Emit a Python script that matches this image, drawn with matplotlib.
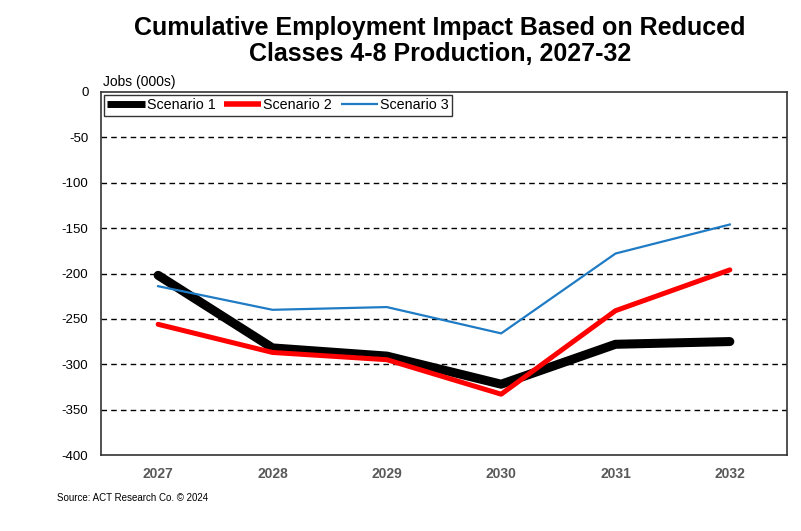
import matplotlib.pyplot as plt
import numpy as np

plt.rcParams['font.family'] = ['Liberation Sans', 'DejaVu Sans']

years = ['2027', '2028', '2029', '2030', '2031', '2032']
scenario1 = [-202, -282, -291, -322, -278, -275]
scenario2 = [-256, -287, -295, -333, -241, -196]
scenario3 = [-214, -240, -237, -266, -178, -146]
yticks = [0, -50, -100, -150, -200, -250, -300, -350, -400]

fig = plt.figure(figsize=(8.01, 5.31), dpi=100)
ax = fig.add_axes([101 / 801, 1 - 455 / 531, 686 / 801, 363 / 531])

x = np.arange(len(years))
ax.plot(x, scenario1, color='black', lw=6.5, solid_capstyle='round', label='Scenario 1', zorder=3)
ax.plot(x, scenario2, color='#ff0000', lw=3.6, solid_capstyle='round', label='Scenario 2', zorder=4)
ax.plot(x, scenario3, color='#1f7bc4', lw=1.6, label='Scenario 3', zorder=5)

ax.set_xlim(-0.5, len(years) - 0.5)
ax.set_ylim(-400, 0)
ax.set_xticks(x)
ax.set_xticklabels(years, fontsize=10, fontweight='bold', color='#595959')
ax.set_yticks(yticks)
ax.set_yticklabels([str(v) for v in yticks], fontsize=9.5)
ax.tick_params(length=0, pad=9)
ax.tick_params(axis='x', pad=9)

# dashed gridlines between the frame edges
for v in yticks[1:-1]:
    ax.axhline(v, color='black', lw=1.0, ls=(0, (4, 3)), zorder=1)

for s in ax.spines.values():
    s.set_color('#333333')
    s.set_linewidth(1.2)

leg = ax.legend(loc='upper left', ncol=3, fontsize=10.3, frameon=True, fancybox=False,
                edgecolor='black', handlelength=2.6, handletextpad=0.15,
                columnspacing=0.6, borderpad=0.25, borderaxespad=0.2)
leg.get_frame().set_linewidth(1.0)
for h, w in zip(leg.get_lines(), [5, 4, 1.6]):
    h.set_linewidth(w)
    h.set_solid_capstyle('butt')

fig.text(103 / 801, 1 - 82 / 531, 'Jobs (000s)', fontsize=10, va='center', ha='left')
fig.text(440 / 801, 1 - 41 / 531,
         'Cumulative Employment Impact Based on Reduced\nClasses 4-8 Production, 2027-32',
         fontsize=18, fontweight='bold', ha='center', va='center', linespacing=1.15)
fig.text(57 / 801, 1 - 498 / 531, 'Source: ACT Research Co. © 2024', fontsize=7.0, va='center')

fig.savefig('out.png', dpi=100)
